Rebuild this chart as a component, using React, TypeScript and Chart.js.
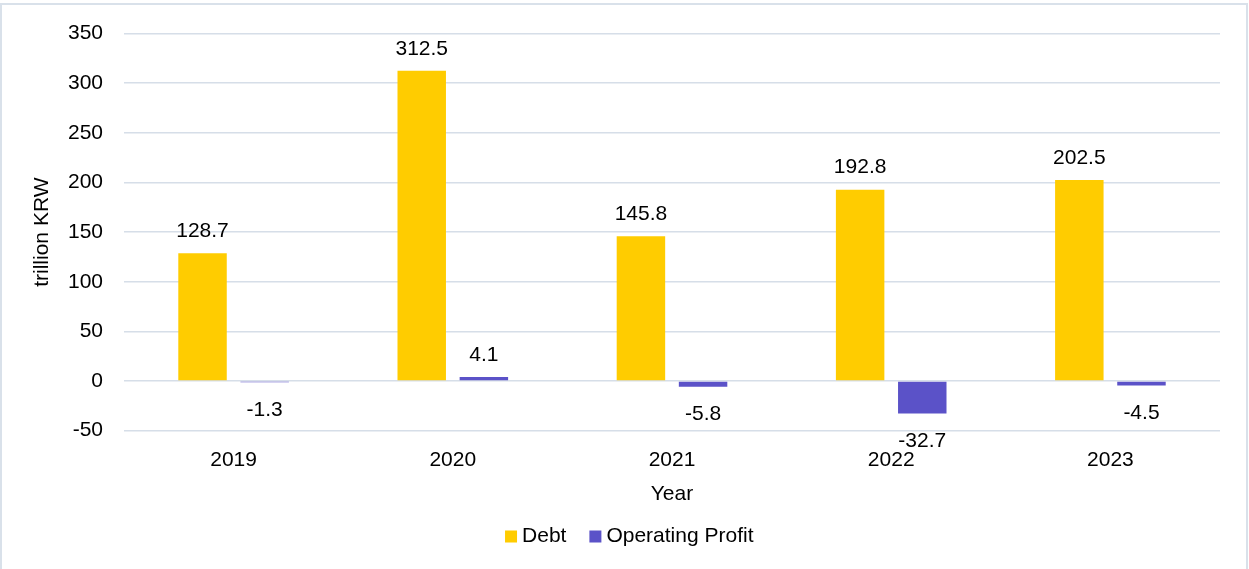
import React, { useEffect, useRef } from "react";
import { Chart, registerables } from "chart.js";

Chart.register(...registerables);

const years: string[] = ["2019", "2020", "2021", "2022", "2023"];
const debt: number[] = [128.7, 312.5, 145.8, 192.8, 202.5];
const operatingProfit: number[] = [-1.3, 4.1, -5.8, -32.7, -4.5];
const yMin = -50;
const yMax = 350;
const yStep = 50;
const yTitle = "trillion KRW";
const xTitle = "Year";
const seriesNames: string[] = ["Debt", "Operating Profit"];

const FONT = "'Liberation Sans', Arial, sans-serif";
const DEBT_COLOR = "#FFCC00";
const PROFIT_COLOR = "#5B52C8";
const GRID_COLOR = "#D6DEE8";

const frame = {
  id: "frame",
  beforeDraw(chart: any) {
    const { ctx } = chart;
    ctx.save();
    ctx.fillStyle = "#ffffff";
    ctx.fillRect(0, 0, chart.width, chart.height);
    ctx.strokeStyle = "#D9E1EA";
    ctx.lineWidth = 2;
    ctx.strokeRect(1, 4, chart.width - 3, chart.height + 10);
    ctx.restore();
  },
};

const valueLabels = {
  id: "valueLabels",
  afterDatasetsDraw(chart: any) {
    const { ctx } = chart;
    ctx.save();
    ctx.font = `21px ${FONT}`;
    ctx.fillStyle = "#000000";
    ctx.textAlign = "center";
    ctx.textBaseline = "middle";
    chart.data.datasets.forEach((ds: any, di: number) => {
      const meta = chart.getDatasetMeta(di);
      meta.data.forEach((el: any, i: number) => {
        const v = ds.data[i] as number;
        const ly = v >= 0 ? el.y - 22 : el.y + 27.5;
        ctx.fillText(v.toFixed(1), el.x, ly);
      });
    });
    ctx.restore();
  },
};

export default function App() {
  const ref = useRef<HTMLCanvasElement | null>(null);
  useEffect(() => {
    if (!ref.current) return;
    const chart = new Chart(ref.current, {
      type: "bar",
      data: {
        labels: years,
        datasets: [
          {
            label: seriesNames[0],
            data: debt,
            backgroundColor: DEBT_COLOR,
            borderWidth: 0,
            categoryPercentage: 0.567,
            barPercentage: 0.78,
          },
          {
            label: seriesNames[1],
            data: operatingProfit,
            backgroundColor: PROFIT_COLOR,
            borderWidth: 0,
            categoryPercentage: 0.567,
            barPercentage: 0.78,
          },
        ],
      },
      options: {
        responsive: false,
        animation: false,
        layout: { padding: { left: 15, right: 0, top: 33.3, bottom: 12 } },
        plugins: {
          tooltip: { enabled: false },
          legend: {
            position: "bottom",
            labels: {
              usePointStyle: true,
              pointStyle: "rect",
              boxWidth: 1,
              boxHeight: 12,
              padding: 28.5,
              color: "#000000",
              font: { family: FONT, size: 21 },
            },
          },
        },
        scales: {
          x: {
            grid: { display: false, drawTicks: false },
            border: { display: false },
            ticks: {
              color: "#000000",
              font: { family: FONT, size: 21 },
              padding: 17,
              maxRotation: 0,
            },
            title: {
              display: true,
              text: xTitle,
              color: "#000000",
              font: { family: FONT, size: 21 },
              padding: { top: 0, bottom: -9.1 },
            },
            afterFit(scale: any) {
              scale.height = 66.8;
            },
          },
          y: {
            min: yMin,
            max: yMax,
            grid: { color: GRID_COLOR, lineWidth: 1.5, drawTicks: false },
            border: { display: false },
            ticks: {
              stepSize: yStep,
              color: "#000000",
              font: { family: FONT, size: 21 },
              padding: 21,
            },
            title: {
              display: true,
              text: yTitle,
              color: "#000000",
              font: { family: FONT, size: 21 },
              padding: { top: 14.5, bottom: 0 },
            },
            afterFit(scale: any) {
              scale.width = 109;
            },
          },
          yRight: {
            position: "right",
            display: true,
            grid: { display: false, drawTicks: false },
            border: { display: false },
            ticks: { display: false },
            afterFit(scale: any) {
              scale.width = 29;
            },
          },
        },
      },
      plugins: [frame, valueLabels],
    } as any);
    return () => chart.destroy();
  }, []);

  return (
    <div style={{ position: "fixed", left: 0, top: 0, width: 1249, height: 569, background: "#fff" }}>
      <canvas ref={ref} width={1249} height={569} style={{ display: "block", width: 1249, height: 569 }} />
    </div>
  );
}
